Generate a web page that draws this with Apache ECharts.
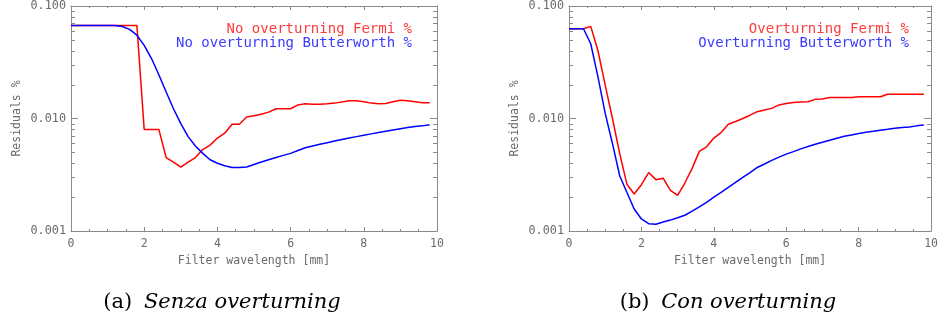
<!DOCTYPE html>
<html>
<head>
<meta charset="utf-8">
<script src="https://cdn.jsdelivr.net/npm/echarts@6/dist/echarts.min.js"></script>
<style>
html,body{margin:0;padding:0;background:#fff;}
#c{width:941px;height:323px;}
</style>
</head>
<body>
<div id="c"></div>
<script>
// ---------- data ----------
const xs = [0,0.2,0.4,0.6,0.8,1.0,1.2,1.4,1.6,1.8,2.0,2.2,2.4,2.6,2.8,3.0,3.2,3.4,3.6,3.8,4.0,4.2,4.4,4.6,4.8,5.0,5.2,5.4,5.6,5.8,6.0,6.2,6.4,6.6,6.8,7.0,7.2,7.4,7.6,7.8,8.0,8.2,8.4,8.6,8.8,9.0,9.2,9.4,9.6,9.8];

const noOvFermi = [0.0672,0.0672,0.0672,0.0672,0.0672,0.0672,0.0672,0.0672,0.0672,0.0672,
  0.0080,0.0080,0.0080,0.0045,0.0041,0.0037,0.0041,0.0045,0.0053,0.0058,
  0.0067,0.0074,0.0089,0.0089,0.0103,0.0106,0.0109,0.0114,0.0122,0.0122,
  0.0122,0.0132,0.0135,0.0134,0.0134,0.0135,0.0137,0.0140,0.0144,0.0144,
  0.0141,0.0137,0.0135,0.0136,0.0141,0.0145,0.0144,0.0141,0.0138,0.0138];

const noOvButter = [0.0672,0.0672,0.0672,0.0672,0.0672,0.0672,0.0670,0.0658,0.0620,0.0550,
  0.0447,0.0341,0.0245,0.0172,0.0122,0.0090,0.0069,0.0057,0.0049,0.0043,
  0.0040,0.0038,0.00367,0.00366,0.0037,0.0039,0.0041,0.0043,0.0045,0.0047,
  0.0049,0.0052,0.0055,0.0057,0.0059,0.0061,0.0063,0.0065,0.0067,0.0069,
  0.0071,0.0073,0.0075,0.0077,0.0079,0.0081,0.0083,0.0085,0.0086,0.0088];

const ovFermi = [0.0628,0.0628,0.0628,0.0659,0.0400,0.0198,0.0100,0.0049,0.0026,0.00213,
  0.00258,0.00331,0.00286,0.00295,0.0023,0.00207,0.00267,0.0036,0.0051,0.0056,
  0.0067,0.0075,0.0089,0.0094,0.0100,0.0107,0.0115,0.0119,0.0123,0.0132,
  0.0136,0.0139,0.0140,0.0141,0.0148,0.0149,0.0154,0.0154,0.0154,0.0154,
  0.0156,0.0156,0.0156,0.0156,0.0164,0.0164,0.0164,0.0164,0.0164,0.0164];

const ovButter = [0.0628,0.0628,0.0628,0.0462,0.0234,0.0111,0.0060,0.0031,0.0022,0.00157,
  0.00128,0.00116,0.00115,0.00120,0.00125,0.00131,0.00138,0.00150,0.00164,0.00180,
  0.0020,0.0022,0.00244,0.0027,0.0030,0.00331,0.00367,0.00394,0.00424,0.00454,
  0.00482,0.00508,0.00537,0.00563,0.00591,0.00615,0.00641,0.00668,0.00695,0.00714,
  0.00734,0.00755,0.0077,0.00787,0.00802,0.00818,0.0083,0.0084,0.0086,0.00876];

const yMinorTicks = [0.002,0.003,0.004,0.005,0.006,0.007,0.008,0.009,0.02,0.03,0.04,0.05,0.06,0.07,0.08,0.09];
const xRange = [0, 10];
const yRange = [0.001, 0.1];

const seriesNames = ['No overturning Fermi %','No overturning Butterworth %','Overturning Fermi %','Overturning Butterworth %'];
const captions = [['(a)','Senza overturning'],['(b)','Con overturning']];
const xTitle = 'Filter wavelength [mm]';
const yTitle = 'Residuals %';

// ---------- style ----------
const AX = '#8a8a8a';
const LC = '#6a6a6a';
const MONO = '"DejaVu Sans Mono", monospace';
const SERIF = '"DejaVu Serif", serif';
const RED = '#ff0000', BLUE = '#0000ff';

function pairs(v){ return xs.map((x,i)=>[x, v[i]]); }

function makeX(gi, pos, lab){
  return {
    type:'value', gridIndex:gi, position:pos, min:xRange[0], max:xRange[1], interval:2,
    axisLine:{show:true, onZero:false, lineStyle:{color:AX, width:1}},
    axisTick:{show:true, inside:true, length:4, lineStyle:{color:AX}},
    minorTick:{show:true, splitNumber:4, length:2, lineStyle:{color:AX}},
    splitLine:{show:false},
    axisLabel:{show:lab, margin:7, color:LC, fontFamily:MONO, fontSize:11.5},
    name: lab ? xTitle : '', nameLocation:'middle', nameGap:21,
    nameTextStyle:{color:LC, fontFamily:MONO, fontSize:11.5}
  };
}
function makeY(gi, pos, lab){
  return {
    type:'log', logBase:10, gridIndex:gi, position:pos, min:yRange[0], max:yRange[1],
    axisLine:{show:true, onZero:false, lineStyle:{color:AX, width:1}},
    axisTick:{show:true, inside:true, length:7, lineStyle:{color:AX}},
    splitLine:{show:false},
    axisLabel:{show:lab, margin:5, color:LC, fontFamily:MONO, fontSize:11.8,
      formatter:(v)=>Number(v).toFixed(3)},
    name: lab ? yTitle : '', nameLocation:'middle', nameGap:48, nameRotate:90,
    nameTextStyle:{color:LC, fontFamily:MONO, fontSize:11.5}
  };
}
function minorTickSeries(gi){
  return {
    type:'custom', xAxisIndex:gi*2, yAxisIndex:gi*2, silent:true, clip:false, z:3,
    data: yMinorTicks.map(v=>[xRange[0], v]),
    renderItem:function(params, api){
      const v = api.value(1);
      const p0 = api.coord([xRange[0], v]);
      const p1 = api.coord([xRange[1], v]);
      const y = Math.round(p0[1]) + 0.5;
      return {type:'group', children:[
        {type:'line', shape:{x1:p0[0], y1:y, x2:p0[0]+4, y2:y}, style:{stroke:AX, lineWidth:1}},
        {type:'line', shape:{x1:p1[0], y1:y, x2:p1[0]-4, y2:y}, style:{stroke:AX, lineWidth:1}}
      ]};
    }
  };
}
function line(name, data, gi, color){
  return {type:'line', name:name, xAxisIndex:gi*2, yAxisIndex:gi*2, data:pairs(data),
    showSymbol:false, symbol:'none', lineStyle:{color:color, width:1.5}, itemStyle:{color:color},
    z:4, animation:false};
}
function legendFor(names, right){
  return {
    data:[{name:names[0], textStyle:{color:'#ff3b3b'}},{name:names[1], textStyle:{color:'#3b3bff'}}],
    orient:'vertical', align:'right', right:right, top:22, padding:0, itemGap:0,
    itemWidth:0, itemHeight:14, icon:'none', selectedMode:false,
    textStyle:{fontFamily:MONO, fontSize:14, lineHeight:14}
  };
}
function caption(c, cx){
  return {
    text:'{a|' + c[0] + '}  {b|' + c[1] + '}', left:cx, top:292, textAlign:'center', padding:0,
    textStyle:{fontWeight:'normal', fontSize:21, rich:{
      a:{fontFamily:SERIF, fontSize:21, fontWeight:'normal', color:'#000'},
      b:{fontFamily:SERIF, fontSize:21, fontStyle:'italic', fontWeight:'normal', color:'#000'}
    }}
  };
}

const chart = echarts.init(document.getElementById('c'), null, {renderer:'canvas'});
chart.setOption({
  animation:false,
  backgroundColor:'#fff',
  grid:[
    {left:71, top:5, width:366, height:226},
    {left:569, top:5, width:366, height:226}
  ],
  xAxis:[makeX(0,'bottom',true), makeX(0,'top',false), makeX(1,'bottom',true), makeX(1,'top',false)],
  yAxis:[makeY(0,'left',true), makeY(0,'right',false), makeY(1,'left',true), makeY(1,'right',false)],
  legend:[legendFor(seriesNames.slice(0,2), 524), legendFor(seriesNames.slice(2,4), 27)],
  title:[caption(captions[0], 222), caption(captions[1], 728)],
  series:[
    line(seriesNames[0], noOvFermi, 0, RED),
    line(seriesNames[1], noOvButter, 0, BLUE),
    line(seriesNames[2], ovFermi, 1, RED),
    line(seriesNames[3], ovButter, 1, BLUE),
    minorTickSeries(0), minorTickSeries(1)
  ]
});
</script>
</body>
</html>
